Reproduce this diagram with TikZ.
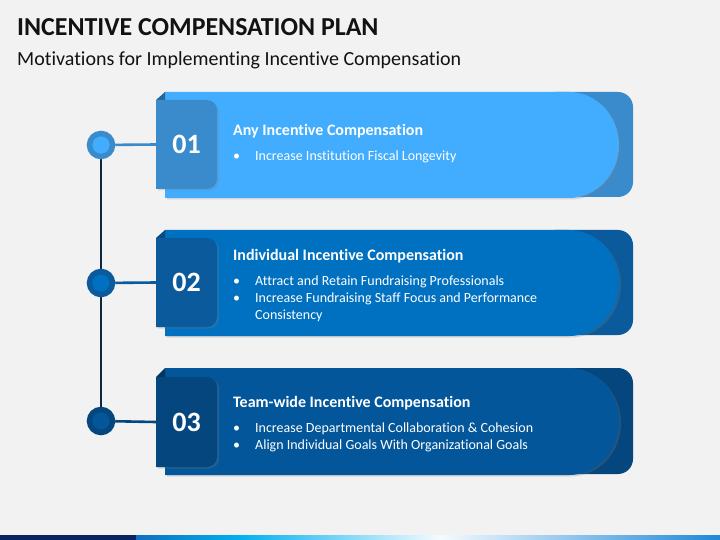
\documentclass[tikz,border=0pt]{standalone}
\usepackage{fontspec}
\setmainfont{Carlito}[Ligatures=NoCommon]
\usetikzlibrary{positioning, shadows}

\definecolor{pagebg}{HTML}{F2F2F2}
\definecolor{spinecol}{HTML}{0E2841}
\definecolor{frontA}{HTML}{42ADFE}
\definecolor{backA}{HTML}{3A8BCB}
\definecolor{foldA}{HTML}{2A6597}
\definecolor{frontB}{HTML}{0070C0}
\definecolor{backB}{HTML}{0A5A9C}
\definecolor{foldB}{HTML}{084A82}
\definecolor{frontC}{HTML}{03569A}
\definecolor{backC}{HTML}{05467E}
\definecolor{foldC}{HTML}{033560}
\definecolor{stripA}{HTML}{0A2463}
\definecolor{stripB}{HTML}{0E6FC0}
\definecolor{stripC}{HTML}{00B0F0}
\definecolor{stripD}{HTML}{F5FBFF}
\definecolor{stripE}{HTML}{1E88D8}

\pgfdeclarelayer{lines}
\pgfsetlayers{lines,main}

\begin{document}
\begin{tikzpicture}[
  x=1pt, y=-1pt,
  title/.style={font=\bfseries\fontsize{25.9}{28}\selectfont, text=black!93, inner sep=0pt},
  subtitle/.style={font=\fontsize{20}{23}\selectfont, text=black!93, inner sep=0pt},
  num/.style={font=\bfseries\fontsize{28}{30}\selectfont, text=white,
              minimum width=61pt, minimum height=89pt, inner sep=0pt},
  dot/.style={circle, minimum size=23pt, inner sep=0pt, line width=5.5pt},
  link/.style={line width=2.6pt},
  spine/.style={line width=2.8pt, spinecol},
  head/.style={font=\bfseries\fontsize{16}{19}\selectfont, text=white, inner sep=0pt},
  items/.style={font=\fontsize{14}{17.2}\selectfont, text=white, inner sep=0pt},
  soft/.style={drop shadow={shadow xshift=2pt, shadow yshift=-1.5pt, opacity=0.25}}]

  \begin{pgfonlayer}{lines}
    \fill[pagebg] (0,0) rectangle (720,540);
  \end{pgfonlayer}

  % heading
  \node[title, anchor=base west] (title) at (17,35.5) {INCENTIVE COMPENSATION PLAN};
  \node[subtitle, anchor=base west] (sub) at (17,65.5)
    {Motivations for Implementing Incentive Compensation};

  % banner 01
  \fill[backA, rounded corners=15pt] (540,92) rectangle (633,197);
  \fill[frontA, soft] (165,92) -- (569,92)
    arc[start angle=-90, end angle=90, x radius=50, y radius=53] -- (165,198) -- cycle;
  \fill[foldA] (156,100) -- (165,92) -- (165,100) -- cycle;
  \fill[backA, soft] (156,100) -- (207,100) arc[start angle=-90, end angle=0, radius=10]
    -- (217,179) arc[start angle=0, end angle=90, radius=10] -- (156,189) -- cycle;
  \node[num] (n1) at (186.5,144.5) {01};
  \node[dot, fill=frontA, draw=backA] (c1) at (101,145) {};
  \node[head, anchor=base west] (h1) at (233,136) {Any Incentive Compensation};
  \node[items, anchor=base west] (b1) at (233,161)
    {\begin{tabular}[t]{@{}p{22pt}@{}l@{}}
      \textbullet & Increase Institution Fiscal Longevity
     \end{tabular}};

  % banner 02
  \fill[backB, rounded corners=15pt] (540,230) rectangle (633,335);
  \fill[frontB, soft] (165,230) -- (569,230)
    arc[start angle=-90, end angle=90, x radius=50, y radius=53] -- (165,336) -- cycle;
  \fill[foldB] (156,238) -- (165,230) -- (165,238) -- cycle;
  \fill[backB, soft] (156,238) -- (207,238) arc[start angle=-90, end angle=0, radius=10]
    -- (217,317) arc[start angle=0, end angle=90, radius=10] -- (156,327) -- cycle;
  \node[num] (n2) at (186.5,282.5) {02};
  \node[dot, fill=frontB, draw=backB] (c2) at (101,283) {};
  \node[head, anchor=base west] (h2) at (233,260.7) {Individual Incentive Compensation};
  \node[items, anchor=base west] (b2) at (233,285.5)
    {\begin{tabular}[t]{@{}p{22pt}@{}l@{}}
      \textbullet & Attract and Retain Fundraising Professionals\\
      \textbullet & Increase Fundraising Staff Focus and Performance\\
                  & Consistency
     \end{tabular}};

  % banner 03
  \fill[backC, rounded corners=15pt] (540,368) rectangle (633,474);
  \fill[frontC, soft] (165,368) -- (569,368)
    arc[start angle=-90, end angle=90, x radius=50, y radius=53.5] -- (165,475) -- cycle;
  \fill[foldC] (156,377) -- (165,368) -- (165,377) -- cycle;
  \fill[backC, soft] (156,377) -- (207,377) arc[start angle=-90, end angle=0, radius=10]
    -- (217,457) arc[start angle=0, end angle=90, radius=10] -- (156,467) -- cycle;
  \node[num] (n3) at (186.5,422) {03};
  \node[dot, fill=frontC, draw=backC] (c3) at (101,421) {};
  \node[head, anchor=base west] (h3) at (233,407.5) {Team-wide Incentive Compensation};
  \node[items, anchor=base west] (b3) at (233,432)
    {\begin{tabular}[t]{@{}p{22pt}@{}l@{}}
      \textbullet & Increase Departmental Collaboration \& Cohesion\\
      \textbullet & Align Individual Goals With Organizational Goals
     \end{tabular}};

  % connectors
  \begin{pgfonlayer}{lines}
    \draw[spine] (c1) -- (c3);
    \draw[link, backA] (c1) -- (n1.west);
    \draw[link, backB] (c2) -- (n2.west);
    \draw[link, backC] (c3) -- (n3.west);
  \end{pgfonlayer}

  % bottom strip
  \fill[stripA] (0,535) rectangle (136,540);
  \shade[left color=stripB, right color=stripC] (136,535) rectangle (240,540);
  \shade[left color=stripC, right color=stripD] (240,535) rectangle (440,540);
  \shade[left color=stripD, right color=stripE] (440,535) rectangle (720,540);
\end{tikzpicture}
\end{document}
